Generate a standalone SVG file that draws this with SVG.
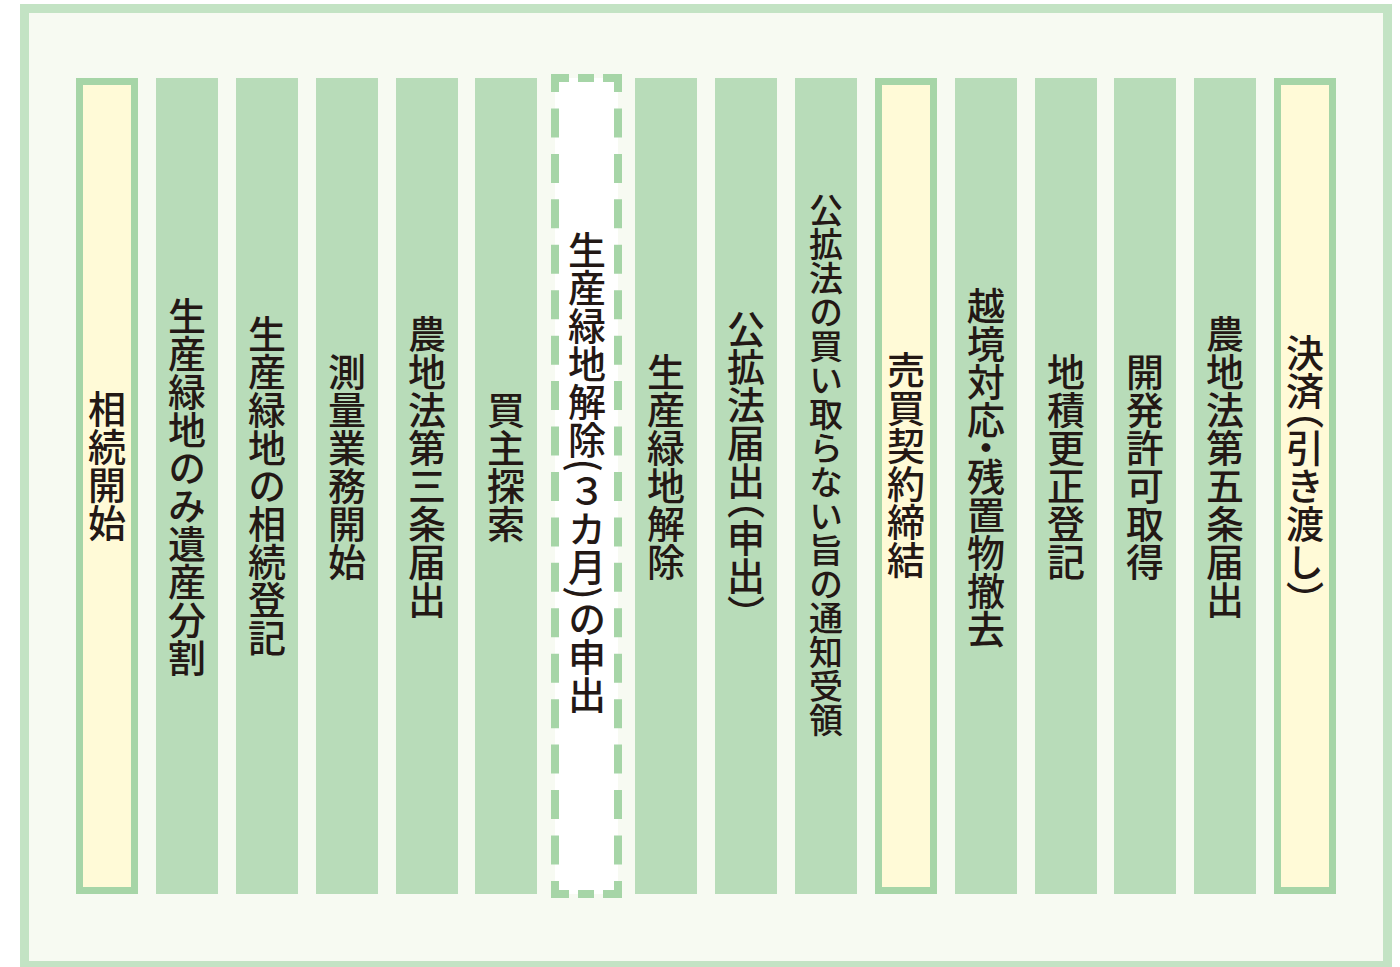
<svg xmlns="http://www.w3.org/2000/svg" width="1400" height="967" viewBox="0 0 1400 967">
<style>
.col{fill:#b8dcb9}
.ycol{fill:#fffad7;stroke:#a6d5a7;stroke-width:7}
.dash{stroke:#a6d5a7;stroke-width:8;fill:none}
.t{font-family:"Noto Sans CJK JP","Noto Sans CJK SC",sans-serif;font-size:38px;font-weight:500;fill:#231815;writing-mode:vertical-rl;text-anchor:middle}
.h{font-feature-settings:"vhal" 1}
</style>
<rect x="0" y="0" width="1400" height="967" fill="#ffffff"/>
<rect id="frame" x="24.5" y="8.5" width="1363" height="957" fill="#f7faf2" stroke="#c3e3c4" stroke-width="9"/>

<g id="n1"><rect class="ycol" x="79.5" y="81.5" width="55" height="809"/><text class="t" x="107" y="466">相続開始</text></g>
<g id="n2"><rect class="col" x="156" y="78" width="62" height="816"/><text class="t" x="187" y="487">生産緑地のみ遺産分割</text></g>
<g id="n3"><rect class="col" x="236" y="78" width="62" height="816"/><text class="t" x="267" y="486">生産緑地の相続登記</text></g>
<g id="n4"><rect class="col" x="316" y="78" width="62" height="816"/><text class="t" x="347" y="467">測量業務開始</text></g>
<g id="n5"><rect class="col" x="396" y="78" width="62" height="816"/><text class="t" x="427" y="467">農地法第三条届出</text></g>
<g id="n6"><rect class="col" x="475" y="78" width="62" height="816"/><text class="t" x="506" y="467">買主探索</text></g>
<g id="n7">
<rect x="555" y="78" width="63" height="816" fill="#ffffff"/>
<line class="dash" x1="555" y1="74" x2="555" y2="898" stroke-dasharray="29 16.44" stroke-dashoffset="11"/>
<line class="dash" x1="618" y1="74" x2="618" y2="898" stroke-dasharray="29 16.44" stroke-dashoffset="11"/>
<line class="dash" x1="551" y1="78" x2="622" y2="78" stroke-dasharray="18 9 16 9 19 0"/>
<line class="dash" x1="551" y1="894" x2="622" y2="894" stroke-dasharray="18 9 16 9 19 0"/>
<text class="t" x="587" y="472">生産緑地解除(３カ月)の申出</text>
</g>
<g id="n8"><rect class="col" x="635" y="78" width="62" height="816"/><text class="t" x="666" y="467">生産緑地解除</text></g>
<g id="n9"><rect class="col" x="715" y="78" width="62" height="816"/><text class="t" x="746" y="462">公拡法届出<tspan class="h">（</tspan>申出<tspan class="h">）</tspan></text></g>
<g id="n10"><rect class="col" x="795" y="78" width="62" height="816"/><text class="t" x="826" y="465" style="font-size:34px">公拡法の買い取らない旨の通知受領</text></g>
<g id="n11"><rect class="ycol" x="878.5" y="81.5" width="55" height="809"/><text class="t" x="906" y="465">売買契約締結</text></g>
<g id="n12"><rect class="col" x="955" y="78" width="62" height="816"/><text class="t" x="986" y="467">越境対応<tspan class="h">・</tspan>残置物撤去</text></g>
<g id="n13"><rect class="col" x="1035" y="78" width="62" height="816"/><text class="t" x="1066" y="467">地積更正登記</text></g>
<g id="n14"><rect class="col" x="1114" y="78" width="62" height="816"/><text class="t" x="1145" y="467">開発許可取得</text></g>
<g id="n15"><rect class="col" x="1194" y="78" width="62" height="816"/><text class="t" x="1225" y="467">農地法第五条届出</text></g>
<g id="n16"><rect class="ycol" x="1277.5" y="81.5" width="55" height="809"/><text class="t" x="1305" y="467">決済<tspan class="h">（</tspan>引き渡し<tspan class="h">）</tspan></text></g>
</svg>
